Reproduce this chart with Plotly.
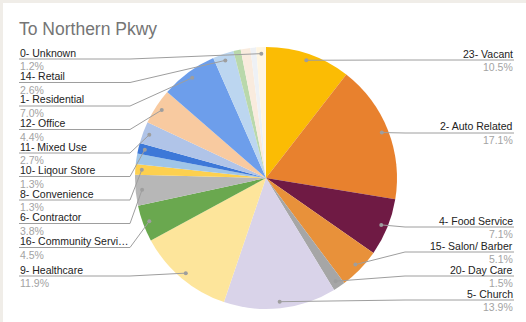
import math
import plotly.graph_objects as go

W, H = 526, 322

title = "To Northern Pkwy"

# Slices in drawing order (clockwise from 12 o'clock)
categories = [
    "23- Vacant", "2- Auto Related", "4- Food Service", "15- Salon/ Barber",
    "20- Day Care", "5- Church", "9- Healthcare", "16- Community Servi…",
    "6- Contractor", "8- Convenience", "Other (a)", "10- Liqour Store",
    "11- Mixed Use", "12- Office", "1- Residential", "14- Retail",
    "Other (b)", "Other (c)", "Other (d)", "0- Unknown",
]
shares = [
    10.5, 17.1, 7.1, 5.1,
    1.5, 13.9, 11.9, 4.5,
    3.8, 1.3, 1.3, 1.3,
    2.7, 4.4, 7.0, 2.6,
    0.9, 1.2, 0.7, 1.2,
]
colors = [
    "#fbbc04", "#e8812e", "#6f1a44", "#e8913a",
    "#a6a6a6", "#d9d3e9", "#fde59b", "#6aa84f",
    "#b7b7b7", "#fdd04f", "#9fc5e8", "#3d78d8",
    "#b0c4e8", "#f8caa0", "#6d9eeb", "#bcd6f0",
    "#b9d8ab", "#f9ebde", "#eef1f5", "#fff5e1",
]

# Label slots: side of the chart and the y of the underline
label_slots = {
    "0- Unknown": ("left", 59),
    "14- Retail": ("left", 82.5),
    "1- Residential": ("left", 106),
    "12- Office": ("left", 129.5),
    "11- Mixed Use": ("left", 153),
    "10- Liqour Store": ("left", 176.5),
    "8- Convenience": ("left", 200),
    "6- Contractor": ("left", 223.5),
    "16- Community Servi…": ("left", 247.5),
    "9- Healthcare": ("left", 276),
    "23- Vacant": ("right", 60),
    "2- Auto Related": ("right", 133),
    "4- Food Service": ("right", 227),
    "15- Salon/ Barber": ("right", 252),
    "20- Day Care": ("right", 276),
    "5- Church": ("right", 300),
}

CX, CY, R = 266, 178, 131
LEFT_X, LEFT_ELBOW = 19, 130
RIGHT_X, RIGHT_ELBOW = 514, 405
FONT = "Liberation Sans, Arial, sans-serif"
LINE_COLOR = "#9e9e9e"


def px(x):
    return x / W


def py(y):
    return 1 - y / H


fig = go.Figure()
fig.add_trace(go.Pie(
    labels=categories,
    values=shares,
    marker=dict(colors=colors, line=dict(width=0)),
    sort=False,
    direction="clockwise",
    rotation=0,
    textinfo="none",
    showlegend=False,
    domain=dict(x=[px(CX - R), px(CX + R)], y=[py(CY + R), py(CY - R)]),
))

shapes = [
    dict(type="rect", xref="paper", yref="paper", x0=0, x1=px(3), y0=0, y1=1,
         fillcolor="#f0ede8", line=dict(width=0), layer="above"),
    dict(type="rect", xref="paper", yref="paper", x0=0, x1=1, y0=py(3), y1=1,
         fillcolor="#f0ede8", line=dict(width=0), layer="above"),
]
annotations = [
    dict(text=title, x=px(18), y=py(28.5), xref="paper", yref="paper",
         xanchor="left", yanchor="middle", showarrow=False, borderpad=0,
         font=dict(family=FONT, size=17.5, color="#757575")),
]

total = sum(shares)
cum = 0.0
for name, v in zip(categories, shares):
    mid = (cum + v / 2) / total * 2 * math.pi
    cum += v
    if name not in label_slots:
        continue
    side, ly = label_slots[name]
    dx = CX + 0.95 * R * math.sin(mid)
    dy = CY - 0.95 * R * math.cos(mid)
    if side == "left":
        x_text, anchor = LEFT_X, "left"
        path = f"M {px(LEFT_X)},{py(ly)} L {px(LEFT_ELBOW)},{py(ly)} L {px(dx)},{py(dy)}"
    else:
        x_text, anchor = RIGHT_X, "right"
        elbow = max(RIGHT_ELBOW, dx)
        path = f"M {px(RIGHT_X)},{py(ly)} L {px(elbow)},{py(ly)} L {px(dx)},{py(dy)}"
    shapes.append(dict(type="path", path=path, xref="paper", yref="paper",
                       line=dict(color=LINE_COLOR, width=1), layer="above"))
    shapes.append(dict(type="circle", xref="paper", yref="paper",
                       x0=px(dx - 2), x1=px(dx + 2), y0=py(dy + 2), y1=py(dy - 2),
                       fillcolor=LINE_COLOR, line=dict(width=0), layer="above"))
    annotations.append(dict(
        text=name, x=px(x_text), y=py(ly - 6.5), xref="paper", yref="paper",
        xanchor=anchor, yanchor="middle", showarrow=False, borderpad=0,
        font=dict(family=FONT, size=10.5, color="#222222")))
    annotations.append(dict(
        text=f"{v:.1f}%", x=px(x_text), y=py(ly + 7), xref="paper", yref="paper",
        xanchor=anchor, yanchor="middle", showarrow=False, borderpad=0,
        font=dict(family=FONT, size=10.5, color="#a3a3a3")))

fig.update_layout(
    width=W, height=H,
    margin=dict(l=0, r=0, t=0, b=0),
    paper_bgcolor="white",
    plot_bgcolor="white",
    shapes=shapes,
    annotations=annotations,
)

fig.write_html("out.html")
